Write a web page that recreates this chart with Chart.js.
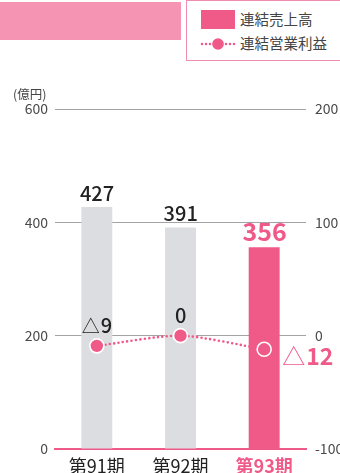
<!DOCTYPE html>
<html>
<head>
<meta charset="utf-8">
<script src="https://cdn.jsdelivr.net/npm/chart.js@4/dist/chart.umd.min.js"></script>
<style>
  html, body { margin: 0; padding: 0; background: #fff; }
  #wrap { position: relative; width: 340px; height: 473px; overflow: hidden;
          font-family: "Noto Sans CJK JP", "Noto Sans", sans-serif; }
  #chart { position: absolute; left: 0; top: 0; }
  .banner { position: absolute; left: 0; top: 2px; width: 181px; height: 38px; background: #f594b3; }
  .legend { position: absolute; left: 186px; top: 0; width: 170px; height: 61px;
            border: 1.5px solid #f08cb0; box-sizing: border-box; background: #fff; }
  .lg-item { position: absolute; left: 0; font-size: 14.5px; color: #444; line-height: 1; white-space: nowrap; }
  .lg-swatch { position: absolute; left: 201px; top: 10px; width: 34px; height: 19px; background: #f05a89; }
  .lg-line { position: absolute; left: 199px; top: 37px; }
  .unit { position: absolute; left: 13px; top: 84px; font-size: 12.5px; color: #444; }
</style>
</head>
<body>
<div id="wrap">
  <canvas id="chart" width="340" height="473"></canvas>
  <div class="banner"></div>
  <div class="legend"></div>
  <div class="lg-swatch"></div>
  <div class="lg-item" style="left:240px;top:12px;">連結売上高</div>
  <svg class="lg-line" width="40" height="14" viewBox="0 0 40 14">
    <line x1="3" y1="7" x2="36" y2="7" stroke="#f05a89" stroke-width="2.5" stroke-linecap="round" stroke-dasharray="0 4"/>
    <circle cx="19" cy="7" r="5.8" fill="#f05a89"/>
  </svg>
  <div class="lg-item" style="left:240px;top:36px;">連結営業利益</div>
  <div class="unit">(億円)</div>
</div>
<script>
// Fiscal periods and figures (億円)
const periods = ['第91期', '第92期', '第93期'];
const netSales = [427, 391, 356];          // 連結売上高
const operatingIncome = [-9, 0, -12];      // 連結営業利益
const salesTicks = [0, 200, 400, 600];
const incomeTicks = [-100, 0, 100, 200];
const currentIndex = 2;                    // latest period is highlighted

const PINK = '#f05a89';
const GRAY_BAR = '#dcdde0';
const INK = '#222';
const FONT = '"Noto Sans CJK JP", "Noto Sans", sans-serif';

// Draws a value; negatives get a leading △ set in its own (lighter) font.
function drawValue(ctx, v, x, y, o) {
  ctx.textAlign = 'left';
  ctx.textBaseline = 'alphabetic';
  ctx.fillStyle = o.color;
  const digits = String(Math.abs(v));
  ctx.font = o.numFont;
  const dm = ctx.measureText(digits);
  const dL = dm.actualBoundingBoxLeft, dW = dm.actualBoundingBoxLeft + dm.actualBoundingBoxRight;
  let tL = 0, tW = 0;
  if (v < 0) {
    ctx.font = o.triFont;
    const tm = ctx.measureText('△');
    tL = tm.actualBoundingBoxLeft;
    tW = tm.actualBoundingBoxLeft + tm.actualBoundingBoxRight;
  }
  const gap = v < 0 ? o.gap : 0;
  const total = tW + gap + dW;
  const x0 = o.align === 'center' ? x - total / 2 : x;
  if (v < 0) {
    ctx.font = o.triFont;
    ctx.fillText('△', x0 + tL, y);
  }
  ctx.font = o.numFont;
  ctx.fillText(digits, x0 + tW + gap + dL, y);
}

const valueLabels = {
  id: 'valueLabels',
  afterDatasetsDraw(chart) {
    const ctx = chart.ctx;
    const bars = chart.getDatasetMeta(0).data;
    const pts = chart.getDatasetMeta(1).data;
    ctx.save();
    bars.forEach((bar, i) => {
      const hi = i === currentIndex;
      drawValue(ctx, netSales[i], bar.x, bar.y - 6, {
        color: hi ? PINK : INK,
        numFont: (hi ? 'bold 25px ' : '500 20px ') + FONT,
        align: 'center'
      });
    });
    pts.forEach((p, i) => {
      if (i === currentIndex) {
        drawValue(ctx, operatingIncome[i], p.x + 18, p.y + 16, {
          color: PINK,
          numFont: 'bold 23px ' + FONT,
          triFont: 'normal 23px ' + FONT,
          gap: 2,
          align: 'left'
        });
      } else {
        drawValue(ctx, operatingIncome[i], p.x, p.y - 13, {
          color: INK,
          numFont: '500 20px ' + FONT,
          triFont: 'normal 18px ' + FONT,
          gap: 1,
          align: 'center'
        });
      }
    });
    ctx.restore();
  }
};

new Chart(document.getElementById('chart'), {
  data: {
    labels: periods,
    datasets: [
      {
        type: 'bar',
        label: '連結売上高',
        data: netSales,
        yAxisID: 'y',
        order: 2,
        backgroundColor: netSales.map((_, i) => (i === currentIndex ? PINK : GRAY_BAR)),
        categoryPercentage: 1,
        barPercentage: 0.37
      },
      {
        type: 'line',
        label: '連結営業利益',
        data: operatingIncome,
        yAxisID: 'y1',
        order: 1,
        borderColor: PINK,
        borderWidth: 2.6,
        borderDash: [0, 4.4],
        borderCapStyle: 'round',
        tension: 0.25,
        pointRadius: 7,
        pointBorderWidth: 1.6,
        pointBorderColor: '#fff',
        pointBackgroundColor: operatingIncome.map((_, i) => (i === currentIndex ? 'rgba(0,0,0,0)' : PINK))
      }
    ]
  },
  options: {
    responsive: false,
    animation: false,
    events: [],
    layout: { padding: { top: 109, left: 0, right: 0, bottom: 0 } },
    plugins: { legend: { display: false }, tooltip: { enabled: false } },
    scales: {
      x: {
        z: 1,
        offset: true,
        grid: { display: false, drawTicks: false },
        border: { display: true, color: PINK, width: 2 },
        ticks: {
          padding: 6,
          color: ctx => (ctx.index === currentIndex ? PINK : INK),
          font: ctx => ({ family: FONT, size: 18, weight: ctx.index === currentIndex ? 'bold' : 'normal' })
        },
        afterFit: s => { s.height = 24; }
      },
      y: {
        position: 'left',
        min: 0, max: 600,
        afterBuildTicks: s => { s.ticks = salesTicks.map(v => ({ value: v })); },
        grid: {
          drawTicks: false,
          color: ctx => (ctx.tick && ctx.tick.value === 0 ? 'rgba(0,0,0,0)' : '#a3a3a3'),
          lineWidth: 1
        },
        border: { display: false },
        ticks: { padding: 7, color: '#4a4a4a', font: { family: FONT, size: 14 } },
        afterFit: s => { s.width = 55; }
      },
      y1: {
        position: 'right',
        min: -100, max: 200,
        afterBuildTicks: s => { s.ticks = incomeTicks.map(v => ({ value: v })); },
        grid: { drawOnChartArea: false, drawTicks: false },
        border: { display: false },
        ticks: { padding: 9, color: '#4a4a4a', font: { family: FONT, size: 14 } },
        afterFit: s => { s.width = 34; }
      }
    }
  },
  plugins: [valueLabels]
});
</script>
</body>
</html>
